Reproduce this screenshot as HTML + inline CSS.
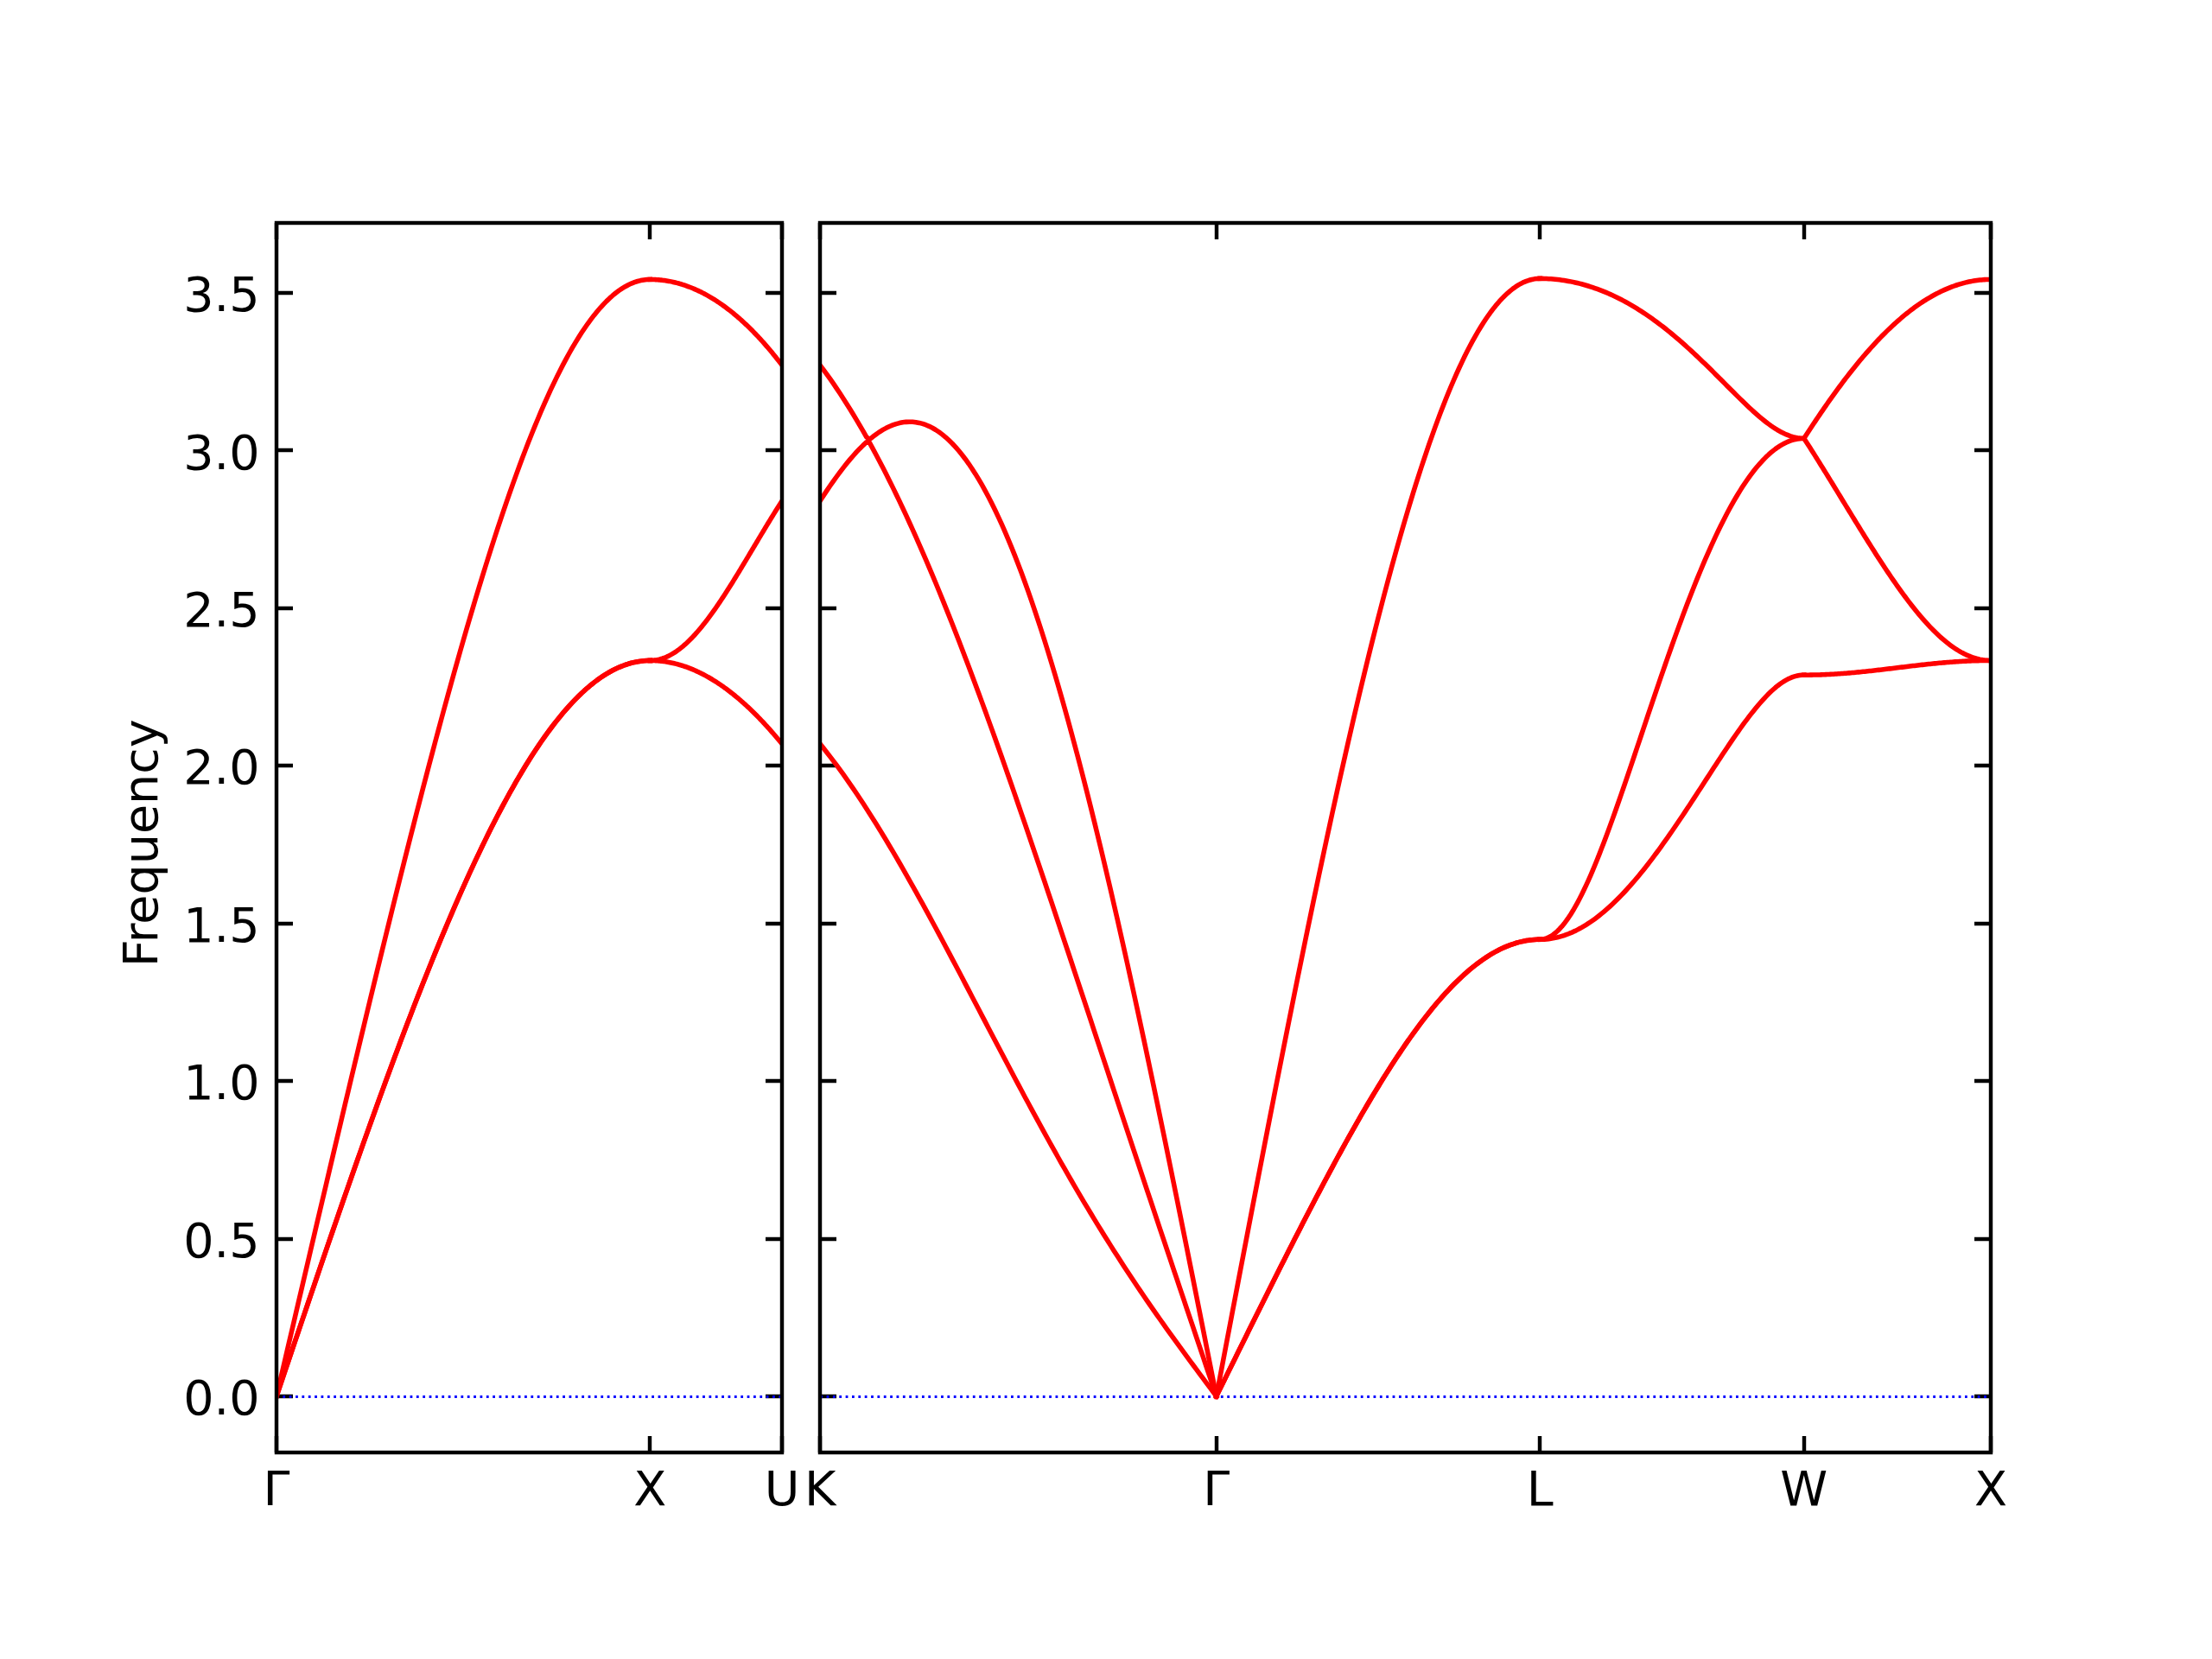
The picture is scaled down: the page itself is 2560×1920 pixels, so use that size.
<!DOCTYPE html>
<html><head><meta charset="utf-8"><title>Phonon band structure</title>
<style>html,body{margin:0;padding:0;background:#fff;width:2560px;height:1920px;overflow:hidden}svg{display:block}</style>
</head><body>
<svg width="2560" height="1920" viewBox="0 0 2560 1920">
<defs>
<clipPath id="c0"><rect x="320" y="257.9" width="585.2" height="1422.7"/></clipPath>
<clipPath id="c1"><rect x="949.2" y="257.9" width="1354.8" height="1422.7"/></clipPath>
</defs>
<rect width="2560" height="1920" fill="#fff"/>
<path d="M320 1681V1662M320 258V277M752 1681V1662M752 258V277M905 1681V1662M905 258V277M320 1616H339M905 1616H886M320 1434H339M905 1434H886M320 1251H339M905 1251H886M320 1069H339M905 1069H886M320 886H339M905 886H886M320 704H339M905 704H886M320 521H339M905 521H886M320 339H339M905 339H886" stroke="#000" stroke-width="4.44" fill="none"/>
<g style="font-family:'DejaVu Sans','Liberation Sans',sans-serif;font-size:55.556px;text-anchor:middle" fill="#000">
<text x="320" y="1742.26">Γ</text>
<text x="752.34" y="1742.26">X</text>
<text x="905.2" y="1742.26">U</text>
</g>
<g style="font-family:'DejaVu Sans','Liberation Sans',sans-serif;font-size:55.556px;text-anchor:end" fill="#000">
<text x="300.56" y="1637.02">0.0</text>
<text x="300.56" y="1454.6">0.5</text>
<text x="300.56" y="1272.19">1.0</text>
<text x="300.56" y="1089.77">1.5</text>
<text x="300.56" y="907.35">2.0</text>
<text x="300.56" y="724.93">2.5</text>
<text x="300.56" y="542.51">3.0</text>
<text x="300.56" y="360.09">3.5</text>
</g>
<text style="font-family:'DejaVu Sans','Liberation Sans',sans-serif;font-size:55.556px;text-anchor:middle" fill="#000" transform="translate(182.43 975.75) rotate(-90)">Frequency</text>
<path clip-path="url(#c0)" d="M320 1616.5H905.2" stroke="#0000ff" stroke-width="2.78" stroke-dasharray="2.78 4.58" fill="none"/>
<g clip-path="url(#c0)" fill="none" stroke="#ff0000" stroke-width="5.56" stroke-linecap="square" stroke-linejoin="round">
<polyline points="320,1615.93 323.6,1605.27 327.21,1594.6 330.81,1583.94 334.41,1573.28 338.01,1562.63 341.62,1551.98 345.22,1541.34 348.82,1530.71 352.43,1520.09 356.03,1509.49 359.63,1498.9 363.23,1488.32 366.84,1477.75 370.44,1467.21 374.04,1456.68 377.65,1446.18 381.25,1435.69 384.85,1425.23 388.45,1414.79 392.06,1404.38 395.66,1394 399.26,1383.64 402.87,1373.32 406.47,1363.02 410.07,1352.76 413.67,1342.54 417.28,1332.35 420.88,1322.19 424.48,1312.08 428.09,1302.01 431.69,1291.97 435.29,1281.99 438.89,1272.04 442.5,1262.15 446.1,1252.3 449.7,1242.5 453.31,1232.76 456.91,1223.06 460.51,1213.43 464.11,1203.84 467.72,1194.32 471.32,1184.86 474.92,1175.45 478.53,1166.11 482.13,1156.84 485.73,1147.63 489.33,1138.49 492.94,1129.42 496.54,1120.42 500.14,1111.49 503.75,1102.64 507.35,1093.87 510.95,1085.17 514.55,1076.56 518.16,1068.02 521.76,1059.57 525.36,1051.21 528.97,1042.93 532.57,1034.74 536.17,1026.64 539.77,1018.64 543.38,1010.72 546.98,1002.91 550.58,995.19 554.19,987.57 557.79,980.05 561.39,972.63 564.99,965.32 568.6,958.11 572.2,951.02 575.8,944.03 579.41,937.15 583.01,930.38 586.61,923.73 590.21,917.2 593.82,910.78 597.42,904.48 601.02,898.3 604.63,892.25 608.23,886.31 611.83,880.51 615.43,874.83 619.04,869.27 622.64,863.85 626.24,858.56 629.85,853.4 633.45,848.38 637.05,843.49 640.65,838.73 644.26,834.11 647.86,829.64 651.46,825.3 655.07,821.1 658.67,817.05 662.27,813.14 665.87,809.37 669.48,805.75 673.08,802.27 676.68,798.95 680.29,795.77 683.89,792.74 687.49,789.86 691.09,787.13 694.7,784.56 698.3,782.13 701.9,779.86 705.51,777.75 709.11,775.78 712.71,773.97 716.31,772.32 719.92,770.83 723.52,769.49 727.12,768.3 730.73,767.28 734.33,766.41 737.93,765.7 741.53,765.14 745.14,764.75 748.74,764.51 752.34,764.43"/>
<polyline points="320,1615.93 323.6,1605.27 327.21,1594.6 330.81,1583.94 334.41,1573.28 338.01,1562.63 341.62,1551.98 345.22,1541.34 348.82,1530.71 352.43,1520.09 356.03,1509.49 359.63,1498.9 363.23,1488.32 366.84,1477.75 370.44,1467.21 374.04,1456.68 377.65,1446.18 381.25,1435.69 384.85,1425.23 388.45,1414.79 392.06,1404.38 395.66,1394 399.26,1383.64 402.87,1373.32 406.47,1363.02 410.07,1352.76 413.67,1342.54 417.28,1332.35 420.88,1322.19 424.48,1312.08 428.09,1302.01 431.69,1291.97 435.29,1281.99 438.89,1272.04 442.5,1262.15 446.1,1252.3 449.7,1242.5 453.31,1232.76 456.91,1223.06 460.51,1213.43 464.11,1203.84 467.72,1194.32 471.32,1184.86 474.92,1175.45 478.53,1166.11 482.13,1156.84 485.73,1147.63 489.33,1138.49 492.94,1129.42 496.54,1120.42 500.14,1111.49 503.75,1102.64 507.35,1093.87 510.95,1085.17 514.55,1076.56 518.16,1068.02 521.76,1059.57 525.36,1051.21 528.97,1042.93 532.57,1034.74 536.17,1026.64 539.77,1018.64 543.38,1010.72 546.98,1002.91 550.58,995.19 554.19,987.57 557.79,980.05 561.39,972.63 564.99,965.32 568.6,958.11 572.2,951.02 575.8,944.03 579.41,937.15 583.01,930.38 586.61,923.73 590.21,917.2 593.82,910.78 597.42,904.48 601.02,898.3 604.63,892.25 608.23,886.31 611.83,880.51 615.43,874.83 619.04,869.27 622.64,863.85 626.24,858.56 629.85,853.4 633.45,848.38 637.05,843.49 640.65,838.73 644.26,834.11 647.86,829.64 651.46,825.3 655.07,821.1 658.67,817.05 662.27,813.14 665.87,809.37 669.48,805.75 673.08,802.27 676.68,798.95 680.29,795.77 683.89,792.74 687.49,789.86 691.09,787.13 694.7,784.56 698.3,782.13 701.9,779.86 705.51,777.75 709.11,775.78 712.71,773.97 716.31,772.32 719.92,770.83 723.52,769.49 727.12,768.3 730.73,767.28 734.33,766.41 737.93,765.7 741.53,765.14 745.14,764.75 748.74,764.51 752.34,764.43"/>
<polyline points="320,1615.93 323.6,1600.5 327.21,1585.07 330.81,1569.65 334.41,1554.22 338.01,1538.8 341.62,1523.39 345.22,1507.98 348.82,1492.58 352.43,1477.19 356.03,1461.8 359.63,1446.43 363.23,1431.07 366.84,1415.73 370.44,1400.39 374.04,1385.08 377.65,1369.78 381.25,1354.5 384.85,1339.24 388.45,1324 392.06,1308.78 395.66,1293.58 399.26,1278.42 402.87,1263.28 406.47,1248.16 410.07,1233.08 413.67,1218.03 417.28,1203.02 420.88,1188.04 424.48,1173.1 428.09,1158.2 431.69,1143.33 435.29,1128.52 438.89,1113.75 442.5,1099.02 446.1,1084.35 449.7,1069.73 453.31,1055.16 456.91,1040.66 460.51,1026.21 464.11,1011.82 467.72,997.49 471.32,983.24 474.92,969.05 478.53,954.94 482.13,940.9 485.73,926.94 489.33,913.05 492.94,899.26 496.54,885.54 500.14,871.92 503.75,858.39 507.35,844.96 510.95,831.62 514.55,818.38 518.16,805.25 521.76,792.23 525.36,779.31 528.97,766.51 532.57,753.83 536.17,741.27 539.77,728.83 543.38,716.52 546.98,704.34 550.58,692.29 554.19,680.38 557.79,668.61 561.39,656.98 564.99,645.5 568.6,634.17 572.2,622.99 575.8,611.97 579.41,601.11 583.01,590.41 586.61,579.88 590.21,569.52 593.82,559.33 597.42,549.32 601.02,539.49 604.63,529.84 608.23,520.38 611.83,511.1 615.43,502.02 619.04,493.13 622.64,484.44 626.24,475.95 629.85,467.66 633.45,459.58 637.05,451.71 640.65,444.06 644.26,436.61 647.86,429.39 651.46,422.38 655.07,415.59 658.67,409.03 662.27,402.7 665.87,396.6 669.48,390.73 673.08,385.09 676.68,379.69 680.29,374.52 683.89,369.6 687.49,364.91 691.09,360.47 694.7,356.28 698.3,352.33 701.9,348.62 705.51,345.17 709.11,341.97 712.71,339.02 716.31,336.32 719.92,333.88 723.52,331.69 727.12,329.75 730.73,328.08 734.33,326.66 737.93,325.49 741.53,324.59 745.14,323.94 748.74,323.56 752.34,323.43"/>
<polyline points="752.34,764.43 753.62,764.44 754.89,764.46 756.16,764.49 757.44,764.54 758.71,764.61 759.99,764.68 761.26,764.77 762.53,764.88 763.81,764.99 765.08,765.12 766.36,765.27 767.63,765.43 768.9,765.6 770.18,765.79 771.45,765.99 772.72,766.2 774,766.43 775.27,766.67 776.55,766.93 777.82,767.2 779.09,767.48 780.37,767.78 781.64,768.09 782.91,768.42 784.19,768.76 785.46,769.11 786.74,769.47 788.01,769.85 789.28,770.25 790.56,770.65 791.83,771.08 793.11,771.51 794.38,771.96 795.65,772.42 796.93,772.9 798.2,773.38 799.47,773.89 800.75,774.4 802.02,774.93 803.3,775.48 804.57,776.04 805.84,776.61 807.12,777.19 808.39,777.79 809.66,778.4 810.94,779.03 812.21,779.66 813.49,780.32 814.76,780.98 816.03,781.66 817.31,782.35 818.58,783.06 819.86,783.78 821.13,784.51 822.4,785.26 823.68,786.01 824.95,786.79 826.22,787.57 827.5,788.37 828.77,789.18 830.05,790.01 831.32,790.85 832.59,791.7 833.87,792.56 835.14,793.44 836.41,794.33 837.69,795.24 838.96,796.16 840.24,797.09 841.51,798.03 842.78,798.99 844.06,799.96 845.33,800.94 846.61,801.93 847.88,802.94 849.15,803.96 850.43,805 851.7,806.04 852.97,807.1 854.25,808.17 855.52,809.26 856.8,810.36 858.07,811.47 859.34,812.59 860.62,813.73 861.89,814.87 863.16,816.03 864.44,817.21 865.71,818.39 866.99,819.59 868.26,820.8 869.53,822.02 870.81,823.26 872.08,824.51 873.35,825.77 874.63,827.04 875.9,828.32 877.18,829.62 878.45,830.92 879.72,832.24 881,833.58 882.27,834.92 883.55,836.28 884.82,837.65 886.09,839.02 887.37,840.42 888.64,841.82 889.91,843.23 891.19,844.66 892.46,846.1 893.74,847.55 895.01,849.01 896.28,850.48 897.56,851.97 898.83,853.47 900.1,854.97 901.38,856.49 902.65,858.02 903.93,859.56 905.2,861.11"/>
<polyline points="752.34,764.43 753.62,764.41 754.89,764.36 756.16,764.26 757.44,764.13 758.71,763.96 759.99,763.75 761.26,763.5 762.53,763.22 763.81,762.9 765.08,762.54 766.36,762.15 767.63,761.71 768.9,761.24 770.18,760.74 771.45,760.19 772.72,759.61 774,759 775.27,758.35 776.55,757.66 777.82,756.94 779.09,756.18 780.37,755.39 781.64,754.56 782.91,753.7 784.19,752.8 785.46,751.87 786.74,750.91 788.01,749.91 789.28,748.88 790.56,747.82 791.83,746.73 793.11,745.6 794.38,744.44 795.65,743.26 796.93,742.04 798.2,740.79 799.47,739.51 800.75,738.21 802.02,736.87 803.3,735.51 804.57,734.11 805.84,732.69 807.12,731.25 808.39,729.77 809.66,728.27 810.94,726.75 812.21,725.2 813.49,723.62 814.76,722.02 816.03,720.4 817.31,718.76 818.58,717.09 819.86,715.4 821.13,713.68 822.4,711.95 823.68,710.2 824.95,708.42 826.22,706.63 827.5,704.82 828.77,702.99 830.05,701.14 831.32,699.27 832.59,697.39 833.87,695.49 835.14,693.58 836.41,691.65 837.69,689.7 838.96,687.74 840.24,685.77 841.51,683.78 842.78,681.79 844.06,679.78 845.33,677.75 846.61,675.72 847.88,673.68 849.15,671.63 850.43,669.56 851.7,667.49 852.97,665.42 854.25,663.33 855.52,661.24 856.8,659.14 858.07,657.03 859.34,654.92 860.62,652.8 861.89,650.68 863.16,648.56 864.44,646.43 865.71,644.3 866.99,642.17 868.26,640.03 869.53,637.89 870.81,635.76 872.08,633.62 873.35,631.48 874.63,629.35 875.9,627.21 877.18,625.08 878.45,622.94 879.72,620.82 881,618.69 882.27,616.57 883.55,614.45 884.82,612.34 886.09,610.23 887.37,608.12 888.64,606.03 889.91,603.94 891.19,601.85 892.46,599.78 893.74,597.71 895.01,595.65 896.28,593.6 897.56,591.55 898.83,589.52 900.1,587.5 901.38,585.48 902.65,583.48 903.93,581.49 905.2,579.51"/>
<polyline points="752.34,323.43 753.62,323.43 754.89,323.45 756.16,323.49 757.44,323.53 758.71,323.6 759.99,323.67 761.26,323.76 762.53,323.86 763.81,323.98 765.08,324.11 766.36,324.25 767.63,324.41 768.9,324.58 770.18,324.76 771.45,324.96 772.72,325.17 774,325.39 775.27,325.63 776.55,325.88 777.82,326.15 779.09,326.43 780.37,326.72 781.64,327.03 782.91,327.35 784.19,327.68 785.46,328.03 786.74,328.39 788.01,328.76 789.28,329.15 790.56,329.55 791.83,329.97 793.11,330.4 794.38,330.84 795.65,331.3 796.93,331.77 798.2,332.25 799.47,332.75 800.75,333.27 802.02,333.79 803.3,334.33 804.57,334.88 805.84,335.45 807.12,336.03 808.39,336.63 809.66,337.23 810.94,337.86 812.21,338.49 813.49,339.14 814.76,339.81 816.03,340.48 817.31,341.17 818.58,341.88 819.86,342.6 821.13,343.33 822.4,344.08 823.68,344.84 824.95,345.61 826.22,346.4 827.5,347.21 828.77,348.02 830.05,348.85 831.32,349.7 832.59,350.55 833.87,351.43 835.14,352.31 836.41,353.21 837.69,354.13 838.96,355.06 840.24,356 841.51,356.95 842.78,357.92 844.06,358.91 845.33,359.91 846.61,360.92 847.88,361.95 849.15,362.99 850.43,364.04 851.7,365.11 852.97,366.19 854.25,367.29 855.52,368.4 856.8,369.53 858.07,370.67 859.34,371.82 860.62,372.99 861.89,374.17 863.16,375.37 864.44,376.58 865.71,377.8 866.99,379.04 868.26,380.29 869.53,381.56 870.81,382.84 872.08,384.14 873.35,385.45 874.63,386.77 875.9,388.11 877.18,389.46 878.45,390.83 879.72,392.21 881,393.6 882.27,395.01 883.55,396.44 884.82,397.88 886.09,399.33 887.37,400.8 888.64,402.28 889.91,403.77 891.19,405.28 892.46,406.81 893.74,408.34 895.01,409.9 896.28,411.46 897.56,413.05 898.83,414.64 900.1,416.25 901.38,417.88 902.65,419.51 903.93,421.17 905.2,422.83"/>
</g>
<rect x="320" y="258" width="585" height="1423" fill="none" stroke="#000" stroke-width="4.44" stroke-linejoin="miter"/>
<path d="M949 1681V1662M949 258V277M1408 1681V1662M1408 258V277M1782 1681V1662M1782 258V277M2088 1681V1662M2088 258V277M2304 1681V1662M2304 258V277M949 1616H968M2304 1616H2285M949 1434H968M2304 1434H2285M949 1251H968M2304 1251H2285M949 1069H968M2304 1069H2285M949 886H968M2304 886H2285M949 704H968M2304 704H2285M949 521H968M2304 521H2285M949 339H968M2304 339H2285" stroke="#000" stroke-width="4.44" fill="none"/>
<g style="font-family:'DejaVu Sans','Liberation Sans',sans-serif;font-size:55.556px;text-anchor:middle" fill="#000">
<text x="949.2" y="1742.26">K</text>
<text x="1407.74" y="1742.26">Γ</text>
<text x="1782.14" y="1742.26">L</text>
<text x="2087.84" y="1742.26">W</text>
<text x="2304" y="1742.26">X</text>
</g>
<path clip-path="url(#c1)" d="M949.2 1616.5H2304" stroke="#0000ff" stroke-width="2.78" stroke-dasharray="2.78 4.58" fill="none"/>
<g clip-path="url(#c1)" fill="none" stroke="#ff0000" stroke-width="5.56" stroke-linecap="square" stroke-linejoin="round">
<polyline points="949.2,861.11 953.02,865.84 956.84,870.66 960.66,875.58 964.48,880.59 968.31,885.7 972.13,890.91 975.95,896.2 979.77,901.59 983.59,907.06 987.41,912.62 991.23,918.26 995.05,923.98 998.88,929.79 1002.7,935.68 1006.52,941.64 1010.34,947.68 1014.16,953.8 1017.98,959.98 1021.8,966.24 1025.62,972.56 1029.45,978.95 1033.27,985.4 1037.09,991.91 1040.91,998.48 1044.73,1005.11 1048.55,1011.79 1052.37,1018.53 1056.19,1025.32 1060.01,1032.15 1063.84,1039.03 1067.66,1045.95 1071.48,1052.92 1075.3,1059.92 1079.12,1066.96 1082.94,1074.04 1086.76,1081.14 1090.58,1088.28 1094.41,1095.44 1098.23,1102.63 1102.05,1109.84 1105.87,1117.07 1109.69,1124.31 1113.51,1131.58 1117.33,1138.85 1121.15,1146.14 1124.98,1153.43 1128.8,1160.73 1132.62,1168.03 1136.44,1175.34 1140.26,1182.64 1144.08,1189.94 1147.9,1197.24 1151.72,1204.52 1155.54,1211.8 1159.37,1219.07 1163.19,1226.32 1167.01,1233.56 1170.83,1240.78 1174.65,1247.98 1178.47,1255.16 1182.29,1262.31 1186.11,1269.44 1189.94,1276.55 1193.76,1283.62 1197.58,1290.66 1201.4,1297.68 1205.22,1304.66 1209.04,1311.6 1212.86,1318.51 1216.68,1325.38 1220.51,1332.21 1224.33,1339.01 1228.15,1345.76 1231.97,1352.47 1235.79,1359.14 1239.61,1365.76 1243.43,1372.34 1247.25,1378.87 1251.07,1385.36 1254.9,1391.8 1258.72,1398.2 1262.54,1404.55 1266.36,1410.85 1270.18,1417.1 1274,1423.31 1277.82,1429.46 1281.64,1435.57 1285.47,1441.64 1289.29,1447.65 1293.11,1453.62 1296.93,1459.54 1300.75,1465.42 1304.57,1471.25 1308.39,1477.04 1312.21,1482.78 1316.04,1488.48 1319.86,1494.13 1323.68,1499.75 1327.5,1505.33 1331.32,1510.86 1335.14,1516.36 1338.96,1521.83 1342.78,1527.26 1346.6,1532.65 1350.43,1538.02 1354.25,1543.35 1358.07,1548.66 1361.89,1553.94 1365.71,1559.19 1369.53,1564.42 1373.35,1569.64 1377.17,1574.83 1381,1580 1384.82,1585.16 1388.64,1590.31 1392.46,1595.45 1396.28,1600.58 1400.1,1605.7 1403.92,1610.82 1407.74,1615.93"/>
<polyline points="949.2,579.51 953.02,573.65 956.84,567.91 960.66,562.29 964.48,556.82 968.31,551.5 972.13,546.33 975.95,541.33 979.77,536.52 983.59,531.88 987.41,527.45 991.23,523.21 995.05,519.18 998.88,515.37 1002.7,511.79 1006.52,512.59 1010.34,519.58 1014.16,526.7 1017.98,533.94 1021.8,541.3 1025.62,548.78 1029.45,556.39 1033.27,564.11 1037.09,571.95 1040.91,579.91 1044.73,587.98 1048.55,596.17 1052.37,604.47 1056.19,612.88 1060.01,621.4 1063.84,630.04 1067.66,638.78 1071.48,647.62 1075.3,656.58 1079.12,665.63 1082.94,674.79 1086.76,684.05 1090.58,693.4 1094.41,702.85 1098.23,712.4 1102.05,722.04 1105.87,731.77 1109.69,741.58 1113.51,751.49 1117.33,761.48 1121.15,771.55 1124.98,781.7 1128.8,791.93 1132.62,802.23 1136.44,812.61 1140.26,823.06 1144.08,833.58 1147.9,844.16 1151.72,854.81 1155.54,865.53 1159.37,876.3 1163.19,887.13 1167.01,898.01 1170.83,908.95 1174.65,919.94 1178.47,930.98 1182.29,942.06 1186.11,953.18 1189.94,964.35 1193.76,975.56 1197.58,986.8 1201.4,998.07 1205.22,1009.38 1209.04,1020.72 1212.86,1032.09 1216.68,1043.48 1220.51,1054.89 1224.33,1066.33 1228.15,1077.79 1231.97,1089.26 1235.79,1100.75 1239.61,1112.25 1243.43,1123.76 1247.25,1135.29 1251.07,1146.82 1254.9,1158.36 1258.72,1169.91 1262.54,1181.46 1266.36,1193.01 1270.18,1204.56 1274,1216.11 1277.82,1227.66 1281.64,1239.21 1285.47,1250.75 1289.29,1262.29 1293.11,1273.83 1296.93,1285.36 1300.75,1296.88 1304.57,1308.39 1308.39,1319.9 1312.21,1331.39 1316.04,1342.88 1319.86,1354.36 1323.68,1365.82 1327.5,1377.28 1331.32,1388.73 1335.14,1400.17 1338.96,1411.59 1342.78,1423.01 1346.6,1434.42 1350.43,1445.81 1354.25,1457.2 1358.07,1468.58 1361.89,1479.95 1365.71,1491.31 1369.53,1502.67 1373.35,1514.02 1377.17,1525.36 1381,1536.69 1384.82,1548.02 1388.64,1559.35 1392.46,1570.67 1396.28,1581.99 1400.1,1593.3 1403.92,1604.62 1407.74,1615.93"/>
<polyline points="949.2,422.83 953.02,427.92 956.84,433.14 960.66,438.48 964.48,443.96 968.31,449.56 972.13,455.29 975.95,461.15 979.77,467.14 983.59,473.25 987.41,479.49 991.23,485.86 995.05,492.35 998.88,498.97 1002.7,505.72 1006.52,508.43 1010.34,505.31 1014.16,502.44 1017.98,499.81 1021.8,497.44 1025.62,495.33 1029.45,493.48 1033.27,491.9 1037.09,490.59 1040.91,489.57 1044.73,488.82 1048.55,488.36 1052.37,488.18 1056.19,488.3 1060.01,488.71 1063.84,489.42 1067.66,490.43 1071.48,491.74 1075.3,493.36 1079.12,495.27 1082.94,497.5 1086.76,500.03 1090.58,502.87 1094.41,506.03 1098.23,509.49 1102.05,513.26 1105.87,517.35 1109.69,521.74 1113.51,526.45 1117.33,531.47 1121.15,536.8 1124.98,542.44 1128.8,548.39 1132.62,554.64 1136.44,561.2 1140.26,568.07 1144.08,575.25 1147.9,582.73 1151.72,590.5 1155.54,598.58 1159.37,606.96 1163.19,615.63 1167.01,624.59 1170.83,633.84 1174.65,643.38 1178.47,653.21 1182.29,663.32 1186.11,673.71 1189.94,684.38 1193.76,695.32 1197.58,706.53 1201.4,718.01 1205.22,729.75 1209.04,741.76 1212.86,754.02 1216.68,766.53 1220.51,779.3 1224.33,792.31 1228.15,805.56 1231.97,819.05 1235.79,832.77 1239.61,846.73 1243.43,860.91 1247.25,875.31 1251.07,889.92 1254.9,904.75 1258.72,919.79 1262.54,935.03 1266.36,950.47 1270.18,966.11 1274,981.93 1277.82,997.94 1281.64,1014.13 1285.47,1030.49 1289.29,1047.03 1293.11,1063.73 1296.93,1080.59 1300.75,1097.6 1304.57,1114.77 1308.39,1132.08 1312.21,1149.53 1316.04,1167.12 1319.86,1184.84 1323.68,1202.68 1327.5,1220.64 1331.32,1238.72 1335.14,1256.9 1338.96,1275.19 1342.78,1293.57 1346.6,1312.05 1350.43,1330.62 1354.25,1349.27 1358.07,1367.99 1361.89,1386.79 1365.71,1405.65 1369.53,1424.58 1373.35,1443.56 1377.17,1462.58 1381,1481.66 1384.82,1500.77 1388.64,1519.91 1392.46,1539.08 1396.28,1558.28 1400.1,1577.49 1403.92,1596.71 1407.74,1615.93"/>
<polyline points="1407.74,1615.93 1410.86,1609.6 1413.98,1603.27 1417.1,1596.94 1420.22,1590.62 1423.34,1584.29 1426.46,1577.97 1429.58,1571.65 1432.7,1565.33 1435.82,1559.02 1438.94,1552.71 1442.06,1546.4 1445.18,1540.1 1448.3,1533.81 1451.42,1527.52 1454.54,1521.24 1457.66,1514.96 1460.78,1508.7 1463.9,1502.44 1467.02,1496.19 1470.14,1489.95 1473.26,1483.73 1476.38,1477.51 1479.5,1471.3 1482.62,1465.11 1485.74,1458.93 1488.86,1452.76 1491.98,1446.61 1495.1,1440.47 1498.22,1434.35 1501.34,1428.24 1504.46,1422.16 1507.58,1416.09 1510.7,1410.04 1513.82,1404.01 1516.94,1398 1520.06,1392.02 1523.18,1386.05 1526.3,1380.11 1529.42,1374.2 1532.54,1368.31 1535.66,1362.45 1538.78,1356.62 1541.9,1350.81 1545.02,1345.04 1548.14,1339.29 1551.26,1333.58 1554.38,1327.91 1557.5,1322.26 1560.62,1316.66 1563.74,1311.09 1566.86,1305.55 1569.98,1300.06 1573.1,1294.61 1576.22,1289.2 1579.34,1283.84 1582.46,1278.51 1585.58,1273.24 1588.7,1268.01 1591.82,1262.83 1594.94,1257.7 1598.06,1252.62 1601.18,1247.59 1604.3,1242.61 1607.42,1237.69 1610.54,1232.83 1613.66,1228.03 1616.78,1223.28 1619.9,1218.59 1623.02,1213.97 1626.14,1209.41 1629.26,1204.91 1632.38,1200.48 1635.5,1196.11 1638.62,1191.82 1641.74,1187.59 1644.86,1183.43 1647.98,1179.35 1651.1,1175.34 1654.22,1171.41 1657.34,1167.55 1660.46,1163.76 1663.58,1160.06 1666.7,1156.44 1669.82,1152.89 1672.94,1149.43 1676.06,1146.05 1679.18,1142.76 1682.3,1139.55 1685.42,1136.43 1688.54,1133.4 1691.66,1130.45 1694.78,1127.6 1697.9,1124.83 1701.02,1122.16 1704.14,1119.58 1707.26,1117.09 1710.38,1114.7 1713.5,1112.4 1716.62,1110.2 1719.74,1108.1 1722.86,1106.09 1725.98,1104.18 1729.1,1102.37 1732.22,1100.66 1735.34,1099.06 1738.46,1097.55 1741.58,1096.14 1744.7,1094.84 1747.82,1093.64 1750.94,1092.54 1754.06,1091.54 1757.18,1090.65 1760.3,1089.86 1763.42,1089.18 1766.54,1088.6 1769.66,1088.13 1772.78,1087.76 1775.9,1087.5 1779.02,1087.34 1782.14,1087.29"/>
<polyline points="1407.74,1615.93 1410.86,1609.6 1413.98,1603.27 1417.1,1596.94 1420.22,1590.62 1423.34,1584.29 1426.46,1577.97 1429.58,1571.65 1432.7,1565.33 1435.82,1559.02 1438.94,1552.71 1442.06,1546.4 1445.18,1540.1 1448.3,1533.81 1451.42,1527.52 1454.54,1521.24 1457.66,1514.96 1460.78,1508.7 1463.9,1502.44 1467.02,1496.19 1470.14,1489.95 1473.26,1483.73 1476.38,1477.51 1479.5,1471.3 1482.62,1465.11 1485.74,1458.93 1488.86,1452.76 1491.98,1446.61 1495.1,1440.47 1498.22,1434.35 1501.34,1428.24 1504.46,1422.16 1507.58,1416.09 1510.7,1410.04 1513.82,1404.01 1516.94,1398 1520.06,1392.02 1523.18,1386.05 1526.3,1380.11 1529.42,1374.2 1532.54,1368.31 1535.66,1362.45 1538.78,1356.62 1541.9,1350.81 1545.02,1345.04 1548.14,1339.29 1551.26,1333.58 1554.38,1327.91 1557.5,1322.26 1560.62,1316.66 1563.74,1311.09 1566.86,1305.55 1569.98,1300.06 1573.1,1294.61 1576.22,1289.2 1579.34,1283.84 1582.46,1278.51 1585.58,1273.24 1588.7,1268.01 1591.82,1262.83 1594.94,1257.7 1598.06,1252.62 1601.18,1247.59 1604.3,1242.61 1607.42,1237.69 1610.54,1232.83 1613.66,1228.03 1616.78,1223.28 1619.9,1218.59 1623.02,1213.97 1626.14,1209.41 1629.26,1204.91 1632.38,1200.48 1635.5,1196.11 1638.62,1191.82 1641.74,1187.59 1644.86,1183.43 1647.98,1179.35 1651.1,1175.34 1654.22,1171.41 1657.34,1167.55 1660.46,1163.76 1663.58,1160.06 1666.7,1156.44 1669.82,1152.89 1672.94,1149.43 1676.06,1146.05 1679.18,1142.76 1682.3,1139.55 1685.42,1136.43 1688.54,1133.4 1691.66,1130.45 1694.78,1127.6 1697.9,1124.83 1701.02,1122.16 1704.14,1119.58 1707.26,1117.09 1710.38,1114.7 1713.5,1112.4 1716.62,1110.2 1719.74,1108.1 1722.86,1106.09 1725.98,1104.18 1729.1,1102.37 1732.22,1100.66 1735.34,1099.06 1738.46,1097.55 1741.58,1096.14 1744.7,1094.84 1747.82,1093.64 1750.94,1092.54 1754.06,1091.54 1757.18,1090.65 1760.3,1089.86 1763.42,1089.18 1766.54,1088.6 1769.66,1088.13 1772.78,1087.76 1775.9,1087.5 1779.02,1087.34 1782.14,1087.29"/>
<polyline points="1407.74,1615.93 1410.86,1599.53 1413.98,1583.13 1417.1,1566.73 1420.22,1550.34 1423.34,1533.96 1426.46,1517.59 1429.58,1501.23 1432.7,1484.89 1435.82,1468.57 1438.94,1452.27 1442.06,1435.99 1445.18,1419.74 1448.3,1403.51 1451.42,1387.31 1454.54,1371.15 1457.66,1355.01 1460.78,1338.92 1463.9,1322.86 1467.02,1306.85 1470.14,1290.88 1473.26,1274.95 1476.38,1259.07 1479.5,1243.25 1482.62,1227.47 1485.74,1211.75 1488.86,1196.09 1491.98,1180.49 1495.1,1164.95 1498.22,1149.48 1501.34,1134.07 1504.46,1118.73 1507.58,1103.47 1510.7,1088.28 1513.82,1073.16 1516.94,1058.13 1520.06,1043.18 1523.18,1028.31 1526.3,1013.53 1529.42,998.84 1532.54,984.24 1535.66,969.73 1538.78,955.32 1541.9,941.02 1545.02,926.81 1548.14,912.71 1551.26,898.71 1554.38,884.82 1557.5,871.05 1560.62,857.39 1563.74,843.85 1566.86,830.43 1569.98,817.13 1573.1,803.95 1576.22,790.9 1579.34,777.98 1582.46,765.19 1585.58,752.54 1588.7,740.03 1591.82,727.65 1594.94,715.42 1598.06,703.33 1601.18,691.39 1604.3,679.6 1607.42,667.96 1610.54,656.47 1613.66,645.14 1616.78,633.97 1619.9,622.97 1623.02,612.12 1626.14,601.44 1629.26,590.94 1632.38,580.6 1635.5,570.43 1638.62,560.45 1641.74,550.64 1644.86,541.01 1647.98,531.56 1651.1,522.29 1654.22,513.21 1657.34,504.33 1660.46,495.63 1663.58,487.12 1666.7,478.81 1669.82,470.7 1672.94,462.78 1676.06,455.06 1679.18,447.55 1682.3,440.24 1685.42,433.14 1688.54,426.24 1691.66,419.55 1694.78,413.08 1697.9,406.81 1701.02,400.76 1704.14,394.93 1707.26,389.31 1710.38,383.91 1713.5,378.73 1716.62,373.77 1719.74,369.04 1722.86,364.52 1725.98,360.23 1729.1,356.17 1732.22,352.33 1735.34,348.72 1738.46,345.34 1741.58,342.19 1744.7,339.27 1747.82,336.58 1750.94,334.12 1754.06,331.9 1757.18,329.9 1760.3,328.14 1763.42,326.62 1766.54,325.32 1769.66,324.27 1772.78,323.44 1775.9,322.86 1779.02,322.5 1782.14,322.39"/>
<polyline points="1782.14,1087.29 1784.69,1087.25 1787.24,1087.13 1789.79,1086.93 1792.33,1086.66 1794.88,1086.31 1797.43,1085.88 1799.98,1085.38 1802.52,1084.8 1805.07,1084.14 1807.62,1083.4 1810.17,1082.59 1812.71,1081.7 1815.26,1080.73 1817.81,1079.69 1820.36,1078.58 1822.9,1077.39 1825.45,1076.12 1828,1074.78 1830.55,1073.37 1833.09,1071.89 1835.64,1070.33 1838.19,1068.7 1840.74,1067 1843.28,1065.23 1845.83,1063.39 1848.38,1061.49 1850.93,1059.51 1853.47,1057.46 1856.02,1055.35 1858.57,1053.17 1861.12,1050.93 1863.66,1048.62 1866.21,1046.25 1868.76,1043.82 1871.31,1041.32 1873.85,1038.77 1876.4,1036.15 1878.95,1033.47 1881.5,1030.74 1884.04,1027.95 1886.59,1025.1 1889.14,1022.2 1891.69,1019.25 1894.23,1016.24 1896.78,1013.18 1899.33,1010.07 1901.88,1006.91 1904.42,1003.71 1906.97,1000.45 1909.52,997.16 1912.06,993.81 1914.61,990.43 1917.16,987 1919.71,983.54 1922.25,980.03 1924.8,976.49 1927.35,972.91 1929.9,969.3 1932.44,965.66 1934.99,961.98 1937.54,958.28 1940.09,954.54 1942.63,950.78 1945.18,947 1947.73,943.19 1950.28,939.37 1952.82,935.52 1955.37,931.66 1957.92,927.78 1960.47,923.89 1963.01,919.98 1965.56,916.07 1968.11,912.15 1970.66,908.23 1973.2,904.3 1975.75,900.37 1978.3,896.45 1980.85,892.53 1983.39,888.61 1985.94,884.71 1988.49,880.82 1991.04,876.94 1993.58,873.08 1996.13,869.24 1998.68,865.43 2001.23,861.65 2003.77,857.89 2006.32,854.17 2008.87,850.49 2011.42,846.85 2013.96,843.26 2016.51,839.71 2019.06,836.22 2021.61,832.79 2024.15,829.42 2026.7,826.12 2029.25,822.9 2031.8,819.75 2034.34,816.68 2036.89,813.7 2039.44,810.81 2041.99,808.03 2044.53,805.34 2047.08,802.77 2049.63,800.32 2052.18,797.99 2054.72,795.78 2057.27,793.71 2059.82,791.78 2062.37,790 2064.91,788.37 2067.46,786.89 2070.01,785.58 2072.56,784.43 2075.1,783.45 2077.65,782.64 2080.2,782.01 2082.75,781.56 2085.29,781.29 2087.84,781.2"/>
<polyline points="1782.14,1087.29 1784.69,1087.13 1787.24,1086.67 1789.79,1085.9 1792.33,1084.82 1794.88,1083.45 1797.43,1081.77 1799.98,1079.8 1802.52,1077.53 1805.07,1074.98 1807.62,1072.15 1810.17,1069.05 1812.71,1065.68 1815.26,1062.05 1817.81,1058.17 1820.36,1054.04 1822.9,1049.68 1825.45,1045.09 1828,1040.28 1830.55,1035.26 1833.09,1030.04 1835.64,1024.63 1838.19,1019.03 1840.74,1013.26 1843.28,1007.32 1845.83,1001.23 1848.38,994.99 1850.93,988.6 1853.47,982.09 1856.02,975.45 1858.57,968.7 1861.12,961.85 1863.66,954.89 1866.21,947.85 1868.76,940.72 1871.31,933.51 1873.85,926.24 1876.4,918.91 1878.95,911.52 1881.5,904.09 1884.04,896.61 1886.59,889.1 1889.14,881.56 1891.69,874 1894.23,866.42 1896.78,858.83 1899.33,851.24 1901.88,843.64 1904.42,836.05 1906.97,828.47 1909.52,820.9 1912.06,813.36 1914.61,805.84 1917.16,798.34 1919.71,790.88 1922.25,783.46 1924.8,776.07 1927.35,768.73 1929.9,761.45 1932.44,754.21 1934.99,747.03 1937.54,739.9 1940.09,732.85 1942.63,725.85 1945.18,718.93 1947.73,712.08 1950.28,705.3 1952.82,698.6 1955.37,691.99 1957.92,685.46 1960.47,679.01 1963.01,672.65 1965.56,666.39 1968.11,660.22 1970.66,654.14 1973.2,648.17 1975.75,642.29 1978.3,636.52 1980.85,630.85 1983.39,625.3 1985.94,619.85 1988.49,614.51 1991.04,609.28 1993.58,604.17 1996.13,599.18 1998.68,594.3 2001.23,589.54 2003.77,584.91 2006.32,580.4 2008.87,576.01 2011.42,571.75 2013.96,567.61 2016.51,563.61 2019.06,559.73 2021.61,555.98 2024.15,552.37 2026.7,548.89 2029.25,545.54 2031.8,542.33 2034.34,539.25 2036.89,536.31 2039.44,533.51 2041.99,530.85 2044.53,528.33 2047.08,525.94 2049.63,523.7 2052.18,521.6 2054.72,519.64 2057.27,517.83 2059.82,516.16 2062.37,514.63 2064.91,513.25 2067.46,512.01 2070.01,510.91 2072.56,509.96 2075.1,509.16 2077.65,508.5 2080.2,507.99 2082.75,507.63 2085.29,507.41 2087.84,507.33"/>
<polyline points="1782.14,322.39 1784.69,322.4 1787.24,322.46 1789.79,322.54 1792.33,322.67 1794.88,322.83 1797.43,323.02 1799.98,323.25 1802.52,323.52 1805.07,323.82 1807.62,324.16 1810.17,324.53 1812.71,324.94 1815.26,325.39 1817.81,325.87 1820.36,326.38 1822.9,326.93 1825.45,327.52 1828,328.14 1830.55,328.8 1833.09,329.49 1835.64,330.22 1838.19,330.99 1840.74,331.79 1843.28,332.63 1845.83,333.51 1848.38,334.42 1850.93,335.36 1853.47,336.34 1856.02,337.36 1858.57,338.42 1861.12,339.51 1863.66,340.63 1866.21,341.79 1868.76,342.99 1871.31,344.23 1873.85,345.5 1876.4,346.8 1878.95,348.15 1881.5,349.52 1884.04,350.94 1886.59,352.39 1889.14,353.87 1891.69,355.39 1894.23,356.95 1896.78,358.54 1899.33,360.17 1901.88,361.83 1904.42,363.52 1906.97,365.25 1909.52,367.02 1912.06,368.82 1914.61,370.65 1917.16,372.52 1919.71,374.42 1922.25,376.35 1924.8,378.31 1927.35,380.31 1929.9,382.34 1932.44,384.4 1934.99,386.49 1937.54,388.61 1940.09,390.77 1942.63,392.95 1945.18,395.15 1947.73,397.39 1950.28,399.66 1952.82,401.95 1955.37,404.26 1957.92,406.6 1960.47,408.97 1963.01,411.35 1965.56,413.76 1968.11,416.19 1970.66,418.64 1973.2,421.11 1975.75,423.59 1978.3,426.09 1980.85,428.6 1983.39,431.13 1985.94,433.66 1988.49,436.2 1991.04,438.76 1993.58,441.31 1996.13,443.87 1998.68,446.43 2001.23,448.98 2003.77,451.53 2006.32,454.07 2008.87,456.61 2011.42,459.13 2013.96,461.63 2016.51,464.11 2019.06,466.57 2021.61,469.01 2024.15,471.41 2026.7,473.77 2029.25,476.1 2031.8,478.39 2034.34,480.62 2036.89,482.8 2039.44,484.93 2041.99,486.99 2044.53,488.98 2047.08,490.9 2049.63,492.74 2052.18,494.49 2054.72,496.16 2057.27,497.73 2059.82,499.19 2062.37,500.56 2064.91,501.8 2067.46,502.94 2070.01,503.95 2072.56,504.83 2075.1,505.59 2077.65,506.21 2080.2,506.7 2082.75,507.05 2085.29,507.26 2087.84,507.33"/>
<polyline points="2087.84,781.2 2089.64,781.2 2091.44,781.19 2093.24,781.17 2095.05,781.15 2096.85,781.13 2098.65,781.09 2100.45,781.06 2102.25,781.01 2104.05,780.96 2105.85,780.91 2107.65,780.85 2109.46,780.78 2111.26,780.71 2113.06,780.64 2114.86,780.55 2116.66,780.47 2118.46,780.37 2120.26,780.28 2122.07,780.17 2123.87,780.06 2125.67,779.95 2127.47,779.83 2129.27,779.71 2131.07,779.58 2132.87,779.45 2134.67,779.31 2136.48,779.17 2138.28,779.03 2140.08,778.88 2141.88,778.72 2143.68,778.56 2145.48,778.4 2147.28,778.24 2149.09,778.07 2150.89,777.89 2152.69,777.72 2154.49,777.53 2156.29,777.35 2158.09,777.16 2159.89,776.98 2161.69,776.78 2163.5,776.59 2165.3,776.39 2167.1,776.19 2168.9,775.99 2170.7,775.78 2172.5,775.58 2174.3,775.37 2176.11,775.16 2177.91,774.95 2179.71,774.73 2181.51,774.52 2183.31,774.3 2185.11,774.09 2186.91,773.87 2188.71,773.65 2190.52,773.43 2192.32,773.21 2194.12,772.99 2195.92,772.77 2197.72,772.55 2199.52,772.33 2201.32,772.12 2203.13,771.9 2204.93,771.68 2206.73,771.46 2208.53,771.25 2210.33,771.03 2212.13,770.82 2213.93,770.61 2215.73,770.4 2217.54,770.19 2219.34,769.98 2221.14,769.77 2222.94,769.57 2224.74,769.37 2226.54,769.17 2228.34,768.98 2230.15,768.78 2231.95,768.59 2233.75,768.4 2235.55,768.22 2237.35,768.04 2239.15,767.86 2240.95,767.69 2242.75,767.51 2244.56,767.35 2246.36,767.18 2248.16,767.02 2249.96,766.87 2251.76,766.71 2253.56,766.57 2255.36,766.42 2257.17,766.28 2258.97,766.15 2260.77,766.02 2262.57,765.89 2264.37,765.77 2266.17,765.66 2267.97,765.54 2269.77,765.44 2271.58,765.34 2273.38,765.24 2275.18,765.15 2276.98,765.06 2278.78,764.98 2280.58,764.91 2282.38,764.84 2284.19,764.77 2285.99,764.72 2287.79,764.66 2289.59,764.61 2291.39,764.57 2293.19,764.53 2294.99,764.5 2296.79,764.48 2298.6,764.46 2300.4,764.44 2302.2,764.43 2304,764.43"/>
<polyline points="2087.84,507.33 2089.64,510.13 2091.44,512.94 2093.24,515.76 2095.05,518.59 2096.85,521.43 2098.65,524.28 2100.45,527.14 2102.25,530.01 2104.05,532.88 2105.85,535.77 2107.65,538.66 2109.46,541.56 2111.26,544.47 2113.06,547.38 2114.86,550.3 2116.66,553.22 2118.46,556.15 2120.26,559.08 2122.07,562.02 2123.87,564.96 2125.67,567.9 2127.47,570.85 2129.27,573.79 2131.07,576.74 2132.87,579.69 2134.67,582.63 2136.48,585.58 2138.28,588.52 2140.08,591.47 2141.88,594.41 2143.68,597.35 2145.48,600.28 2147.28,603.21 2149.09,606.14 2150.89,609.06 2152.69,611.97 2154.49,614.88 2156.29,617.78 2158.09,620.67 2159.89,623.55 2161.69,626.43 2163.5,629.29 2165.3,632.14 2167.1,634.98 2168.9,637.81 2170.7,640.63 2172.5,643.43 2174.3,646.22 2176.11,649 2177.91,651.75 2179.71,654.5 2181.51,657.22 2183.31,659.93 2185.11,662.62 2186.91,665.29 2188.71,667.94 2190.52,670.57 2192.32,673.17 2194.12,675.76 2195.92,678.32 2197.72,680.86 2199.52,683.38 2201.32,685.87 2203.13,688.33 2204.93,690.77 2206.73,693.18 2208.53,695.56 2210.33,697.91 2212.13,700.24 2213.93,702.53 2215.73,704.79 2217.54,707.02 2219.34,709.22 2221.14,711.39 2222.94,713.52 2224.74,715.61 2226.54,717.68 2228.34,719.7 2230.15,721.69 2231.95,723.64 2233.75,725.55 2235.55,727.43 2237.35,729.26 2239.15,731.06 2240.95,732.81 2242.75,734.52 2244.56,736.19 2246.36,737.82 2248.16,739.4 2249.96,740.94 2251.76,742.44 2253.56,743.89 2255.36,745.3 2257.17,746.65 2258.97,747.97 2260.77,749.23 2262.57,750.45 2264.37,751.62 2266.17,752.74 2267.97,753.81 2269.77,754.84 2271.58,755.81 2273.38,756.73 2275.18,757.6 2276.98,758.42 2278.78,759.19 2280.58,759.91 2282.38,760.58 2284.19,761.19 2285.99,761.75 2287.79,762.26 2289.59,762.71 2291.39,763.12 2293.19,763.46 2294.99,763.76 2296.79,764 2298.6,764.19 2300.4,764.32 2302.2,764.41 2304,764.43"/>
<polyline points="2087.84,507.33 2089.64,504.55 2091.44,501.77 2093.24,499.01 2095.05,496.27 2096.85,493.53 2098.65,490.81 2100.45,488.11 2102.25,485.42 2104.05,482.74 2105.85,480.08 2107.65,477.43 2109.46,474.8 2111.26,472.18 2113.06,469.59 2114.86,467 2116.66,464.44 2118.46,461.89 2120.26,459.36 2122.07,456.85 2123.87,454.35 2125.67,451.88 2127.47,449.42 2129.27,446.98 2131.07,444.56 2132.87,442.16 2134.67,439.78 2136.48,437.42 2138.28,435.08 2140.08,432.76 2141.88,430.46 2143.68,428.18 2145.48,425.92 2147.28,423.69 2149.09,421.47 2150.89,419.27 2152.69,417.1 2154.49,414.95 2156.29,412.82 2158.09,410.71 2159.89,408.63 2161.69,406.57 2163.5,404.53 2165.3,402.51 2167.1,400.52 2168.9,398.55 2170.7,396.6 2172.5,394.68 2174.3,392.78 2176.11,390.9 2177.91,389.05 2179.71,387.22 2181.51,385.42 2183.31,383.64 2185.11,381.88 2186.91,380.15 2188.71,378.45 2190.52,376.76 2192.32,375.11 2194.12,373.48 2195.92,371.87 2197.72,370.29 2199.52,368.73 2201.32,367.2 2203.13,365.69 2204.93,364.21 2206.73,362.75 2208.53,361.32 2210.33,359.92 2212.13,358.54 2213.93,357.19 2215.73,355.86 2217.54,354.56 2219.34,353.29 2221.14,352.04 2222.94,350.81 2224.74,349.62 2226.54,348.45 2228.34,347.3 2230.15,346.19 2231.95,345.09 2233.75,344.03 2235.55,342.99 2237.35,341.98 2239.15,340.99 2240.95,340.03 2242.75,339.1 2244.56,338.2 2246.36,337.32 2248.16,336.46 2249.96,335.64 2251.76,334.84 2253.56,334.07 2255.36,333.32 2257.17,332.6 2258.97,331.91 2260.77,331.25 2262.57,330.61 2264.37,330 2266.17,329.42 2267.97,328.86 2269.77,328.33 2271.58,327.83 2273.38,327.35 2275.18,326.91 2276.98,326.48 2278.78,326.09 2280.58,325.72 2282.38,325.38 2284.19,325.07 2285.99,324.79 2287.79,324.53 2289.59,324.3 2291.39,324.09 2293.19,323.92 2294.99,323.77 2296.79,323.64 2298.6,323.55 2300.4,323.48 2302.2,323.44 2304,323.43"/>
</g>
<rect x="949" y="258" width="1355" height="1423" fill="none" stroke="#000" stroke-width="4.44" stroke-linejoin="miter"/>
</svg>
</body></html>
